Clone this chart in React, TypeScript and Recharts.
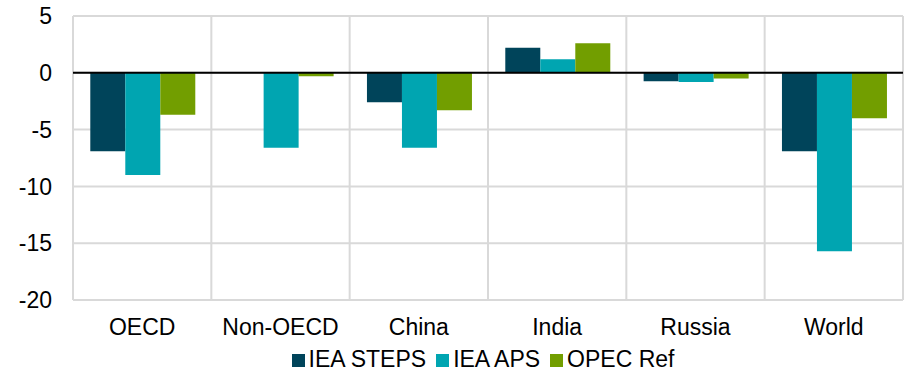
import React from 'react';
import {
  BarChart,
  Bar,
  XAxis,
  YAxis,
  CartesianGrid,
  Legend,
  ReferenceLine,
} from 'recharts';

const regions = ['OECD', 'Non-OECD', 'China', 'India', 'Russia', 'World'];
const seriesNames = ['IEA STEPS', 'IEA APS', 'OPEC Ref'];
const ieaSteps = [-6.9, 0, -2.6, 2.2, -0.75, -6.9];
const ieaAps = [-9.0, -6.6, -6.6, 1.2, -0.8, -15.7];
const opecRef = [-3.7, -0.3, -3.3, 2.6, -0.5, -4.0];
const yTicks = [5, 0, -5, -10, -15, -20];

const data = regions.map((name, i) => ({
  name,
  steps: ieaSteps[i],
  aps: ieaAps[i],
  opec: opecRef[i],
}));

const FONT = 'Arial, "Liberation Sans", sans-serif';

export default function App() {
  // vertical grid lines sit between the categories, not on them
  const boundaries = ({ offset }: any) => {
    const pts: number[] = [];
    for (let i = 0; i <= regions.length; i++) {
      pts.push(offset.left + (offset.width * i) / regions.length);
    }
    return pts;
  };

  return (
    <div style={{ position: 'absolute', left: 0, top: 0, width: 909, height: 373, background: '#fff' }}>
      <BarChart
        width={909}
        height={373}
        data={data}
        margin={{ top: 16, right: 6, left: 0, bottom: 0 }}
        barCategoryGap="12.5%"
        barGap={0}
        style={{ fontFamily: FONT }}
      >
        <CartesianGrid
          stroke="#d9d9d9"
          strokeWidth={2}
          verticalCoordinatesGenerator={boundaries}
        />
        <XAxis
          dataKey="name"
          axisLine={false}
          tickLine={false}
          tickSize={0}
          tickMargin={19}
          height={46}
          interval={0}
          tick={{ fontSize: 23, fill: '#000', fontFamily: FONT }}
        />
        <YAxis
          domain={[-20, 5]}
          ticks={yTicks}
          axisLine={false}
          tickLine={false}
          tickSize={0}
          tickMargin={21}
          width={73}
          tick={{ fontSize: 23, fill: '#000', fontFamily: FONT }}
        />
        <Legend
          verticalAlign="bottom"
          iconType="square"
          iconSize={13}
          itemSorter={(item: any) => seriesNames.indexOf(item.value)}
          wrapperStyle={{ left: 70, width: 836, bottom: 0, fontSize: 23, fontFamily: FONT, color: '#000' }}
          formatter={(value: string) => <span style={{ color: '#000' }}>{value}</span>}
        />
        <Bar dataKey="steps" name={seriesNames[0]} fill="#00445A" isAnimationActive={false} />
        <Bar dataKey="aps" name={seriesNames[1]} fill="#00A5B1" isAnimationActive={false} />
        <Bar dataKey="opec" name={seriesNames[2]} fill="#729E00" isAnimationActive={false} />
        <ReferenceLine y={0} stroke="#000" strokeWidth={2} />
      </BarChart>
    </div>
  );
}
